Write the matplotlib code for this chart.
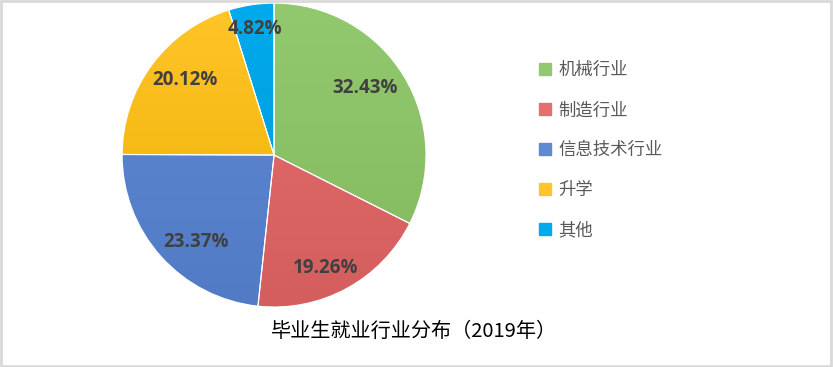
import numpy as np
import matplotlib
matplotlib.use("Agg")
from matplotlib import pyplot as plt
from matplotlib.lines import Line2D
from matplotlib.patches import Rectangle
from matplotlib.colors import LinearSegmentedColormap

plt.rcParams['font.family'] = ['Noto Sans CJK SC', 'DejaVu Sans']

categories = ['机械行业', '制造行业', '信息技术行业', '升学', '其他']
shares = [32.43, 19.26, 23.37, 20.12, 4.82]
title = '毕业生就业行业分布（2019年）'

# (top, bottom) colours for the soft vertical gradient
colors_top = ['#93C96E', '#E56E6E', '#6089D4', '#FFC52A', '#00AAEC']
colors_bot = ['#83B85F', '#D45E5E', '#527BC6', '#EDB000', '#0098D8']
label_r = [0.745, 0.815, 0.77, 0.765, 0.84]
label_nudge = [4.5, -4.0, 6.0, -3.5, 0.0]  # degrees, best-fit style placement

fig = plt.figure(figsize=(8.33, 3.67), dpi=100)
ax = fig.add_axes([0.1465, 0.1635, 0.365, 0.828])

wedges, _ = ax.pie(shares, startangle=90, counterclock=False,
                   colors=colors_top, radius=1.0,
                   wedgeprops=dict(linewidth=0.8, edgecolor='white'))

grad = np.linspace(0, 1, 256).reshape(-1, 1)
for w, ct, cb in zip(wedges, colors_top, colors_bot):
    cmap = LinearSegmentedColormap.from_list('g', [cb, ct])
    im = ax.imshow(grad, cmap=cmap, extent=(-1, 1, -1, 1), origin='lower',
                   aspect='auto', zorder=w.get_zorder())
    im.set_clip_path(w)
    w.set_facecolor('none')
    w.set_zorder(w.get_zorder() + 0.5)

for w, val, r, nd in zip(wedges, shares, label_r, label_nudge):
    ang = np.deg2rad((w.theta1 + w.theta2) / 2 + nd)
    ax.text(r * np.cos(ang), r * np.sin(ang), f'{val:.2f}%',
            ha='center', va='center', fontsize=13.5, fontweight='bold',
            color='#404040', family=['Open Sans', 'DejaVu Sans'], zorder=5)

ax.set_xlim(-1, 1)
ax.set_ylim(-1, 1)
ax.set_aspect('equal')
ax.axis('off')

handles = [Line2D([], [], marker='s', linestyle='none', markersize=9,
                  markerfacecolor=c, markeredgecolor=c) for c in colors_top]
fig.legend(handles, categories, loc='upper left', bbox_to_anchor=(0.636, 0.852),
           frameon=False, fontsize=12.5, labelcolor='#595959', labelspacing=1.27,
           handletextpad=0.25, handlelength=1.0, borderaxespad=0)

fig.text(0.497, 0.097, title, ha='center', va='center', fontsize=14.5, color='black')

fig.patches.append(Rectangle((0.001, 0.002), 0.997, 0.995, transform=fig.transFigure,
                             fill=False, edgecolor='#D9D9D9', linewidth=2))

fig.savefig('out.png', dpi=100)
